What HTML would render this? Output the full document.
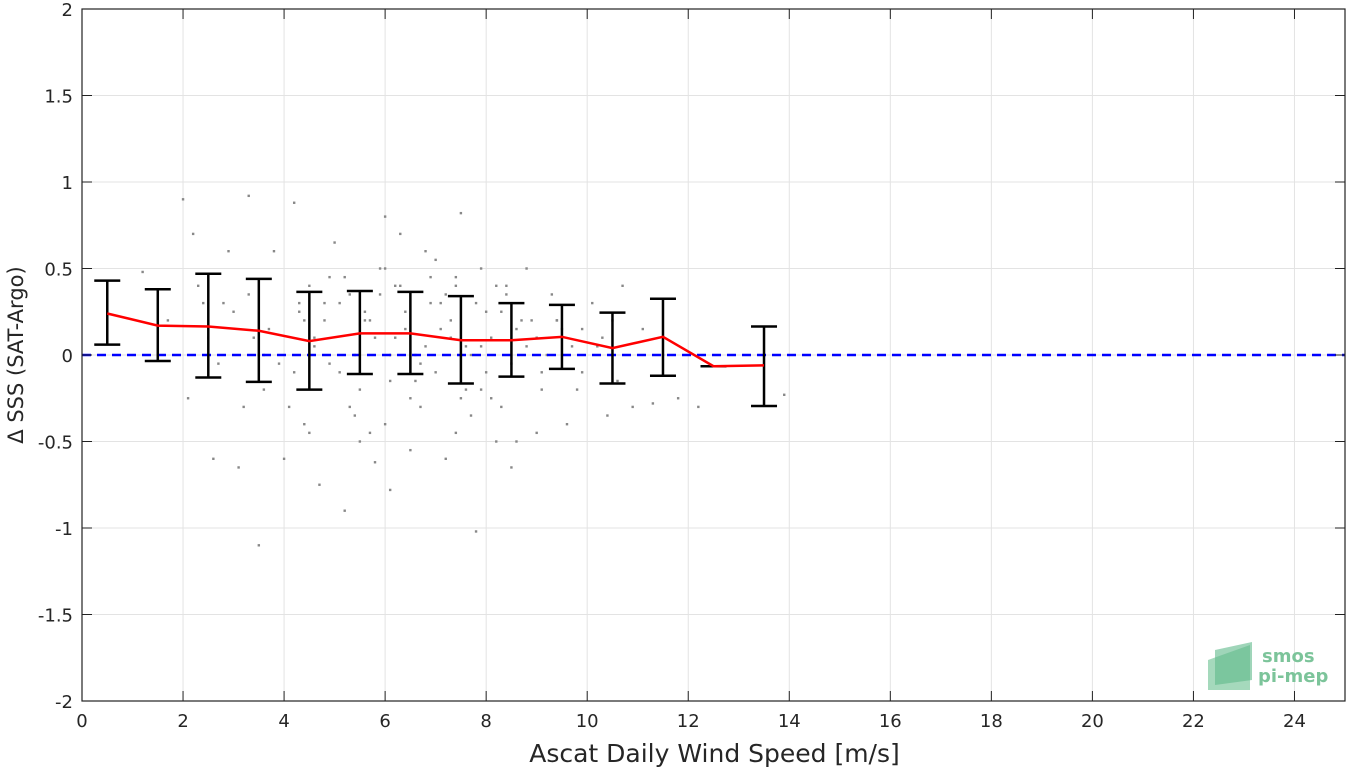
<!DOCTYPE html>
<html><head><meta charset="utf-8"><style>
body{margin:0;background:#fff;}
svg{display:block;font-family:"DejaVu Sans","Liberation Sans",sans-serif;}
</style></head><body>
<svg id="chart" width="1348" height="770"></svg>
<script>
const xCenters=[0.5,1.5,2.5,3.5,4.5,5.5,6.5,7.5,8.5,9.5,10.5,11.5,12.5,13.5];
const meanVals=[0.24,0.17,0.165,0.14,0.08,0.125,0.125,0.085,0.085,0.105,0.04,0.105,-0.065,-0.06];
const upperVals=[0.43,0.38,0.47,0.44,0.365,0.37,0.365,0.34,0.3,0.29,0.245,0.325,-0.065,0.165];
const lowerVals=[0.06,-0.035,-0.13,-0.155,-0.2,-0.11,-0.11,-0.165,-0.125,-0.08,-0.165,-0.12,-0.065,-0.295];
const xTicks=[0,2,4,6,8,10,12,14,16,18,20,22,24];
const yTicks=[2,1.5,1,0.5,0,-0.5,-1,-1.5,-2];
const yTickLabels=["2","1.5","1","0.5","0","-0.5","-1","-1.5","-2"];
const scatterX=[2.0,3.3,4.2,2.2,1.2,6.0,7.5,7.8,8.5,6.1,5.2,4.7,5.8,4.0,3.1,2.6,5.5,6.5,7.2,8.2,9.0,9.6,10.4,10.9,11.3,11.8,12.2,13.9,3.5,4.5,5.0,6.3,6.8,7.0,7.9,8.8,3.8,2.9,4.9,5.9,6.9,7.4,8.4,9.3,10.1,10.7,2.4,1.7,3.0,4.3,5.3,6.2,7.1,8.0,8.7,9.4,9.9,10.3,11.1,5.6,6.4,7.3,4.6,3.6,2.7,5.1,6.6,7.6,8.1,9.1,4.1,5.4,6.7,7.7,2.1,3.2,4.4,5.7,6.0,7.4,8.3,8.6,9.8,10.6,11.5,3.4,4.8,6.1,7.9,2.8,
4.3,4.6,5.1,5.4,5.7,5.9,6.2,6.4,6.6,6.9,7.1,7.3,7.6,7.8,8.1,8.3,8.6,8.9,9.2,9.5,4.2,4.5,4.9,5.2,5.5,5.8,6.1,6.3,6.7,7.0,7.2,7.5,7.7,8.0,8.2,8.5,8.8,9.1,9.4,9.7,3.7,3.9,4.4,4.8,5.3,5.6,6.0,6.5,6.8,7.4,7.9,8.4,9.0,9.9,10.2,10.5,3.3,3.6,2.3,2.5];
const scatterY=[0.9,0.92,0.88,0.7,0.48,0.8,0.82,-1.02,-0.65,-0.78,-0.9,-0.75,-0.62,-0.6,-0.65,-0.6,-0.5,-0.55,-0.6,-0.5,-0.45,-0.4,-0.35,-0.3,-0.28,-0.25,-0.3,-0.23,-1.1,-0.45,0.65,0.7,0.6,0.55,0.5,0.5,0.6,0.6,0.45,0.5,0.45,0.4,0.4,0.35,0.3,0.4,0.3,0.2,0.25,0.3,0.35,0.4,0.3,0.25,0.2,0.2,0.15,0.1,0.15,0.2,0.15,0.1,0.05,0.0,-0.05,-0.1,-0.15,-0.2,-0.25,-0.2,-0.3,-0.35,-0.3,-0.35,-0.25,-0.3,-0.4,-0.45,-0.4,-0.45,-0.3,-0.5,-0.2,-0.15,0.0,0.1,0.2,0.0,0.05,0.3,
0.25,0.1,0.3,0.0,0.2,0.35,0.1,0.25,0.0,0.3,0.15,0.2,0.05,0.3,0.1,0.25,0.15,0.2,0.0,0.15,-0.1,0.4,-0.05,0.45,-0.2,0.1,-0.15,0.4,-0.05,-0.1,0.35,-0.25,0.0,-0.1,0.4,-0.05,0.05,-0.1,0.2,0.05,0.15,-0.05,0.2,0.3,-0.3,0.25,0.5,-0.25,0.05,0.45,-0.2,0.35,0.1,-0.1,0.05,0.2,0.35,-0.2,0.4,0.1];
const NS="http://www.w3.org/2000/svg";
const svg=document.getElementById('chart');
const L=82,R=1345,T=9,B=701;
const xs=v=>L+(v-0)/(25-0)*(R-L);
const ys=v=>T+(2-v)/4*(B-T);
function el(t,a,p){const e=document.createElementNS(NS,t);for(const k in a)e.setAttribute(k,a[k]);(p||svg).appendChild(e);return e;}
const grid=el('g',{});


xTicks.forEach(v=>{el('line',{x1:xs(v),x2:xs(v),y1:T,y2:B,stroke:'#e3e3e3','stroke-width':1},grid);});
yTicks.forEach(v=>{el('line',{x1:L,x2:R,y1:ys(v),y2:ys(v),stroke:'#e3e3e3','stroke-width':1},grid);});
const sc=el('g',{fill:'#888'});


scatterX.forEach((x,i)=>{el('rect',{x:xs(x)-1.2,y:ys(scatterY[i])-1.2,width:2.4,height:2.4},sc);});
const zl=el('line',{x1:L,x2:R,y1:ys(0),y2:ys(0),stroke:'#0000ff','stroke-width':2.5,'stroke-dasharray':'9,6'});


const eb=el('g',{stroke:'#000','stroke-width':2.5,fill:'none'});


xCenters.forEach((x,i)=>{
  const cx=xs(x),w=13;
  const g=el('g',{},eb);
  
  
  el('line',{x1:cx,x2:cx,y1:ys(upperVals[i]),y2:ys(lowerVals[i])},g);
  el('line',{x1:cx-w,x2:cx+w,y1:ys(upperVals[i]),y2:ys(upperVals[i])},g);
  el('line',{x1:cx-w,x2:cx+w,y1:ys(lowerVals[i]),y2:ys(lowerVals[i])},g);
});
const ml=el('polyline',{points:xCenters.map((x,i)=>xs(x)+','+ys(meanVals[i])).join(' '),stroke:'#ff0000','stroke-width':2.5,fill:'none'});


const box=el('rect',{x:L,y:T,width:R-L,height:B-T,fill:'none',stroke:'#222','stroke-width':1.2});


xTicks.forEach(v=>{
  el('line',{x1:xs(v),x2:xs(v),y1:B,y2:B-10,stroke:'#222'});
  el('line',{x1:xs(v),x2:xs(v),y1:T,y2:T+10,stroke:'#222'});
  const t=el('text',{x:xs(v),y:B+26,'text-anchor':'middle','font-size':18,fill:'#262626'});
  t.textContent=v;
  
  
});
yTicks.forEach((v,i)=>{
  el('line',{x1:L,x2:L+10,y1:ys(v),y2:ys(v),stroke:'#222'});
  el('line',{x1:R,x2:R-10,y1:ys(v),y2:ys(v),stroke:'#222'});
  const t=el('text',{x:L-9,y:ys(v)+7,'text-anchor':'end','font-size':18,fill:'#262626'});
  t.textContent=yTickLabels[i];
  
  
});
const xt=el('text',{x:(L+R)/2+1,y:762,'text-anchor':'middle','font-size':25,fill:'#262626'});
xt.textContent='Ascat Daily Wind Speed [m/s]';


const yt=el('text',{x:0,y:0,'text-anchor':'middle','font-size':21,fill:'#262626',transform:'translate(23,'+((T+B)/2)+') rotate(-90)'});
yt.textContent='Δ SSS (SAT-Argo)';


const lg=el('g',{});


el('path',{d:'M1208 660 L1250 645 L1250 690 L1208 690 Z',fill:'#7fc9a0',opacity:0.7},lg);
el('path',{d:'M1215 650 L1252 642 L1252 680 L1215 685 Z',fill:'#5fb98a',opacity:0.6},lg);
const l1=el('text',{x:1262,y:662,'font-size':18,fill:'#7cc49a','font-weight':'bold'},lg);
l1.textContent='smos';
const l2=el('text',{x:1258,y:682,'font-size':18,fill:'#7cc49a','font-weight':'bold'},lg);
l2.textContent='pi-mep';
</script>
</body></html>
